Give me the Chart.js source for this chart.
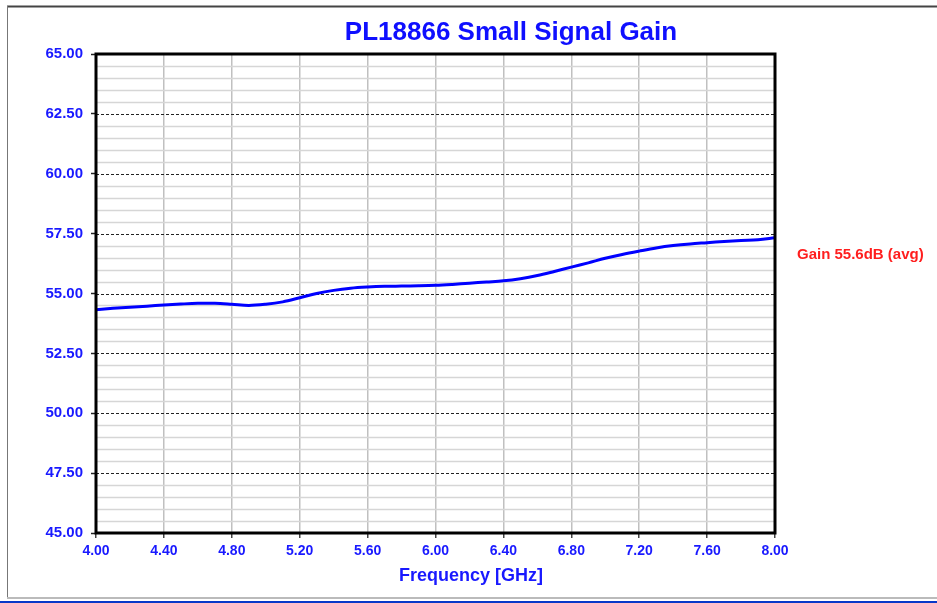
<!DOCTYPE html>
<html>
<head>
<meta charset="utf-8">
<script src="https://cdn.jsdelivr.net/npm/chart.js@4/dist/chart.umd.min.js"></script>
<style>
  html, body { margin: 0; padding: 0; background: #fff; }
  #wrap { width: 937px; height: 603px; position: relative; }
</style>
</head>
<body>
<div id="wrap"><canvas id="c" width="937" height="603"></canvas></div>
<script>
// ---- data ----
const chartTitle = "PL18866 Small Signal Gain";
const xAxisTitle = "Frequency [GHz]";
const annotationText = "Gain 55.6dB (avg)";
const freqGHz = [4.0, 4.1, 4.2, 4.3, 4.4, 4.5, 4.6, 4.7, 4.8, 4.9,
                 5.0, 5.1, 5.2, 5.3, 5.4, 5.5, 5.6, 5.7, 5.8, 5.9,
                 6.0, 6.1, 6.2, 6.3, 6.4, 6.5, 6.6, 6.7, 6.8, 6.9,
                 7.0, 7.1, 7.2, 7.3, 7.4, 7.5, 7.6, 7.7, 7.8, 7.9, 8.0];
const gainDb =  [54.32, 54.38, 54.43, 54.47, 54.52, 54.56, 54.59, 54.59, 54.55, 54.50,
                 54.55, 54.65, 54.82, 55.00, 55.13, 55.22, 55.27, 55.30, 55.31, 55.32,
                 55.34, 55.38, 55.43, 55.48, 55.53, 55.62, 55.75, 55.92, 56.10, 56.28,
                 56.47, 56.63, 56.77, 56.90, 57.00, 57.07, 57.12, 57.17, 57.21, 57.24, 57.33];
const xTicks = [4.0, 4.4, 4.8, 5.2, 5.6, 6.0, 6.4, 6.8, 7.2, 7.6, 8.0];
const yTicks = [45, 47.5, 50, 52.5, 55, 57.5, 60, 62.5, 65];
const yMinorStep = 0.5;

// ---- styling ----
const FONT = '"Liberation Sans", Arial, sans-serif';
const BLUE_TXT = 'rgb(25,25,255)';

const points = freqGHz.map((f, i) => ({ x: f, y: gainDb[i] }));

const decorPlugin = {
  id: 'decor',
  beforeDatasetsDraw(chart) {
    const { ctx, chartArea: a, scales: { y } } = chart;
    ctx.save();
    ctx.strokeStyle = '#d6d6d6';
    ctx.lineWidth = 1.5;
    const ymin = yTicks[0], ymax = yTicks[yTicks.length - 1];
    for (let v = ymin; v <= ymax + 1e-9; v += yMinorStep) {
      const isMajor = yTicks.some(t => Math.abs(t - v) < 1e-6);
      if (isMajor) continue;
      const py = Math.round(y.getPixelForValue(v)) + 0.5;
      ctx.beginPath(); ctx.moveTo(a.left, py); ctx.lineTo(a.right, py); ctx.stroke();
    }
    ctx.strokeStyle = '#222';
    ctx.lineWidth = 1.2;
    ctx.setLineDash([3, 2]);
    yTicks.forEach(t => {
      const py = Math.round(y.getPixelForValue(t)) + 0.5;
      ctx.beginPath(); ctx.moveTo(a.left, py); ctx.lineTo(a.right, py); ctx.stroke();
    });
    ctx.restore();
  },
  afterDatasetsDraw(chart) {
    const { ctx, chartArea: a } = chart;
    ctx.save();
    ctx.strokeStyle = '#000';
    ctx.lineWidth = 3;
    ctx.strokeRect(a.left, a.top, a.right - a.left, a.bottom - a.top);
    ctx.restore();
  },
  afterDraw(chart) {
    const { ctx } = chart;
    ctx.save();
    ctx.fillStyle = 'rgb(15,15,255)';
    ctx.font = 'bold 26px ' + FONT;
    ctx.textAlign = 'center';
    ctx.textBaseline = 'middle';
    ctx.fillText(chartTitle, 511, 33);
    ctx.fillStyle = BLUE_TXT;
    ctx.font = 'bold 18px ' + FONT;
    ctx.fillText(xAxisTitle, 471, 576);
    ctx.fillStyle = 'rgb(255,30,30)';
    ctx.font = 'bold 15px ' + FONT;
    ctx.textAlign = 'left';
    ctx.fillText(annotationText, 797, 255);
    ctx.strokeStyle = '#444';
    ctx.lineWidth = 2;
    ctx.beginPath(); ctx.moveTo(7, 6.5); ctx.lineTo(937, 6.5); ctx.stroke();
    ctx.strokeStyle = '#777';
    ctx.lineWidth = 1;
    ctx.beginPath(); ctx.moveTo(7.5, 6); ctx.lineTo(7.5, 598); ctx.stroke();
    ctx.strokeStyle = '#bbb';
    ctx.lineWidth = 2;
    ctx.beginPath(); ctx.moveTo(7, 598); ctx.lineTo(937, 598); ctx.stroke();
    ctx.strokeStyle = '#0838c8';
    ctx.lineWidth = 2;
    ctx.beginPath(); ctx.moveTo(0, 602); ctx.lineTo(937, 602); ctx.stroke();
    ctx.restore();
  }
};

new Chart(document.getElementById('c'), {
  type: 'line',
  data: {
    datasets: [{
      data: points,
      borderColor: '#0000ff',
      borderWidth: 3,
      pointRadius: 0,
      tension: 0.35,
      fill: false
    }]
  },
  options: {
    responsive: false,
    animation: false,
    devicePixelRatio: 1,
    layout: { padding: { top: 54, right: 162, left: 0, bottom: 0 } },
    plugins: { legend: { display: false }, title: { display: false }, tooltip: { enabled: false } },
    scales: {
      x: {
        type: 'linear',
        min: xTicks[0],
        max: xTicks[xTicks.length - 1],
        afterBuildTicks: s => { s.ticks = xTicks.map(v => ({ value: v })); },
        afterFit: s => { s.height = 70; },
        grid: { color: '#c0c0c0', lineWidth: 1.5, tickLength: 5, tickColor: '#444', tickWidth: 1.5 },
        border: { display: false },
        ticks: {
          color: BLUE_TXT,
          font: { family: FONT, size: 14, weight: 'bold' },
          padding: 5,
          maxRotation: 0,
          autoSkip: false,
          callback: v => Number(v).toFixed(2)
        }
      },
      y: {
        type: 'linear',
        min: yTicks[0],
        max: yTicks[yTicks.length - 1],
        afterBuildTicks: s => { s.ticks = yTicks.map(v => ({ value: v })); },
        afterFit: s => { s.width = 96; },
        grid: { display: true, drawOnChartArea: false, tickLength: 5, tickColor: '#222', tickWidth: 1.5 },
        border: { display: false },
        ticks: {
          color: BLUE_TXT,
          font: { family: FONT, size: 15, weight: 'bold' },
          padding: 8,
          autoSkip: false,
          callback: v => Number(v).toFixed(2)
        }
      }
    }
  },
  plugins: [decorPlugin]
});
</script>
</body>
</html>
